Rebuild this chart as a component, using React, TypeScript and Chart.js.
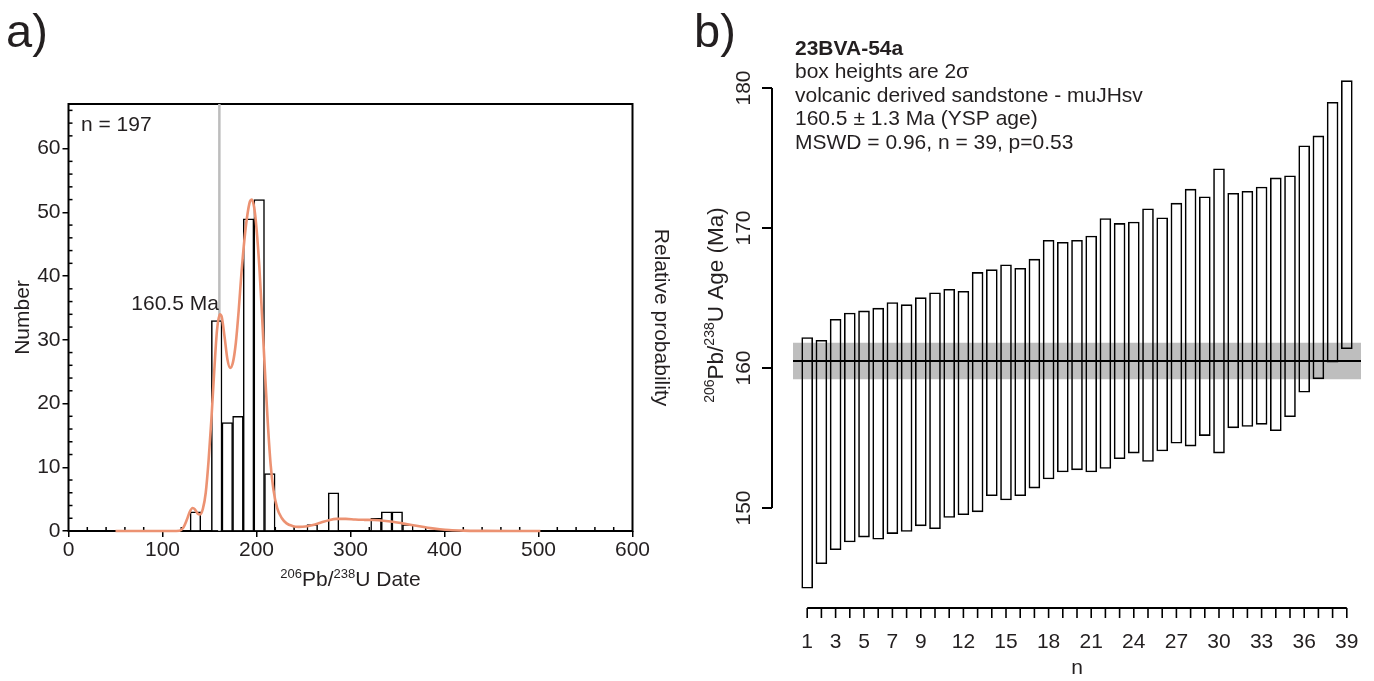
import React, { useEffect, useRef } from "react";
import { Chart, registerables } from "chart.js";

Chart.register(...registerables);

const FONT = "'Liberation Sans', Arial, Helvetica, sans-serif";
const TEXT = "#231f20";

// ---------- Panel a: histogram + probability density ----------
const histBinStart = 129.4;
const histBinWidth = 11.3;
const histCounts = [3, 0, 33, 17, 18, 49, 52, 9, 0, 0, 0, 1, 0, 6, 0, 0, 0, 2, 3, 3, 1];
const kdeAges = [
  50, 110, 118, 122, 126, 129, 132, 134.5, 137.5, 140, 143, 146, 149, 152, 155, 158, 161, 163, 166, 169,
  172, 175, 178, 181, 184, 187, 190, 193, 195, 197.5, 200, 203, 206, 209, 212, 215, 218, 222, 227, 232,
  238, 245, 252, 260, 268, 277, 285, 295, 305, 315, 325, 335, 345, 355, 365, 375, 385, 395, 405, 420,
  440, 470, 502,
];
const kdeDensity = [
  0, 0, 0.05, 0.5, 1.8, 3.0, 3.6, 3.4, 2.7, 2.6, 3.5, 6, 11, 17.5, 25, 31.5, 34.0, 33.6, 30.5, 27,
  25.6, 26.5, 29.5, 34.5, 40.5, 45.5, 49.3, 51.7, 52, 50.8, 47.5, 41.5, 33.5, 25, 17, 10.5, 6.5, 3.6, 2.0, 1.2,
  0.8, 0.65, 0.7, 0.95, 1.3, 1.7, 1.9, 1.9, 1.8, 1.75, 1.72, 1.62, 1.45, 1.2, 0.95, 0.7, 0.45, 0.28, 0.15, 0.06,
  0.02, 0, 0,
];
const dateMinorTicks = [20, 40, 60, 80, 120, 140, 160, 180, 220, 240, 260, 280, 320, 340, 360, 380, 420, 440, 460, 480, 520, 540, 560, 580];
const countMinorTicks = [2, 4, 6, 8, 12, 14, 16, 18, 22, 24, 26, 28, 32, 34, 36, 38, 42, 44, 46, 48, 52, 54, 56, 58, 62, 64, 66];
const countMax = 67;
const nGrains = 197;

// ---------- Panel b: weighted mean boxes ----------
const ysp = 160.5;
const yspErr = 1.3;
const boxLow = [
  144.25, 146.0, 147.0, 147.55, 147.9, 147.75, 148.15, 148.3, 148.7, 148.5,
  149.3, 149.5, 149.7, 150.85, 150.55, 150.85, 151.4, 152.05, 152.55, 152.7,
  152.55, 152.8, 153.5, 153.9, 153.3, 154.05, 154.6, 154.4, 155.15, 153.9,
  155.7, 155.8, 155.95, 155.5, 156.5, 158.25, 159.2, 160.4, 161.35,
];
const boxHigh = [
  162.2, 162.0, 163.5, 163.95, 164.1, 164.3, 164.7, 164.55, 165.05, 165.4,
  165.65, 165.5, 166.85, 167.05, 167.4, 167.15, 167.8, 169.15, 169.0, 169.15,
  169.45, 170.7, 170.35, 170.45, 171.4, 170.75, 171.8, 172.8, 172.25, 174.25,
  172.5, 172.65, 172.95, 173.6, 173.75, 175.9, 176.6, 179.0, 180.55,
];
const ageTicks = [150, 160, 170, 180];
const nLabels = [1, 3, 5, 7, 9, 12, 15, 18, 21, 24, 27, 30, 33, 36, 39];
const infoLines = [
  "box heights are 2σ",
  "volcanic derived sandstone - muJHsv",
  "160.5 ± 1.3 Ma (YSP age)",
  "MSWD = 0.96, n = 39, p=0.53",
];

type Part = { t: string; sup?: boolean };

function drawRich(ctx: CanvasRenderingContext2D, parts: Part[], x: number, y: number, rot: number, size: number, supSize: number) {
  ctx.save();
  ctx.translate(x, y);
  ctx.rotate(rot);
  ctx.textBaseline = "alphabetic";
  ctx.textAlign = "left";
  let total = 0;
  const widths = parts.map((p) => {
    ctx.font = `${p.sup ? supSize : size}px ${FONT}`;
    const w = ctx.measureText(p.t).width;
    total += w;
    return w;
  });
  let cx = -total / 2;
  parts.forEach((p, i) => {
    ctx.font = `${p.sup ? supSize : size}px ${FONT}`;
    ctx.fillText(p.t, cx, p.sup ? -size * 0.4 : 0);
    cx += widths[i];
  });
  ctx.restore();
}

const panelAExtras = {
  id: "panelAExtras",
  beforeDatasetsDraw(chart: any) {
    const { ctx, chartArea: ca } = chart;
    ctx.save();
    ctx.strokeStyle = "#000";
    ctx.lineWidth = 2;
    ctx.strokeRect(ca.left, ca.top, ca.right - ca.left, ca.bottom - ca.top);
    ctx.lineWidth = 1.5;
    const xs = chart.scales.x;
    const ys = chart.scales.y;
    dateMinorTicks.forEach((v) => {
      const px = xs.getPixelForValue(v);
      ctx.beginPath();
      ctx.moveTo(px, ca.bottom);
      ctx.lineTo(px, ca.bottom - 4);
      ctx.stroke();
    });
    countMinorTicks.forEach((v) => {
      const py = ys.getPixelForValue(v);
      ctx.beginPath();
      ctx.moveTo(ca.left, py);
      ctx.lineTo(ca.left + 4, py);
      ctx.stroke();
    });
    ctx.restore();
  },
  afterDraw(chart: any) {
    const { ctx, chartArea: ca } = chart;
    const xs = chart.scales.x;
    ctx.save();
    ctx.fillStyle = TEXT;
    ctx.font = `21px ${FONT}`;
    ctx.textBaseline = "alphabetic";
    ctx.textAlign = "left";
    ctx.fillText(`n = ${nGrains}`, 81, 131);
    ctx.textAlign = "right";
    ctx.fillText(`${ysp} Ma`, xs.getPixelForValue(ysp) - 0.5, 310);
    ctx.textAlign = "left";
    ctx.font = `47px ${FONT}`;
    ctx.fillText("a)", 6, 47);
    drawRich(
      ctx,
      [{ t: "206", sup: true }, { t: "Pb/" }, { t: "238", sup: true }, { t: "U Date" }],
      (ca.left + ca.right) / 2,
      586,
      0,
      21,
      13
    );
    ctx.restore();
  },
};

const panelBExtras = {
  id: "panelBExtras",
  afterDraw(chart: any) {
    const { ctx, chartArea: ca } = chart;
    const xs = chart.scales.x;
    const ys = chart.scales.y;
    ctx.save();
    ctx.strokeStyle = "#000";
    ctx.fillStyle = TEXT;
    ctx.lineWidth = 2;
    // y axis
    const ax = ca.left - 21;
    const yTop = ys.getPixelForValue(ageTicks[ageTicks.length - 1]);
    const yBot = ys.getPixelForValue(ageTicks[0]);
    ctx.beginPath();
    ctx.moveTo(ax, yTop);
    ctx.lineTo(ax, yBot);
    ctx.stroke();
    ctx.font = `21px ${FONT}`;
    ageTicks.forEach((v) => {
      const py = ys.getPixelForValue(v);
      ctx.beginPath();
      ctx.moveTo(ax - 10, py);
      ctx.lineTo(ax, py);
      ctx.stroke();
      ctx.save();
      ctx.translate(ax - 22, py);
      ctx.rotate(-Math.PI / 2);
      ctx.textAlign = "center";
      ctx.textBaseline = "alphabetic";
      ctx.fillText(String(v), 0, 0);
      ctx.restore();
    });
    drawRich(
      ctx,
      [{ t: "206", sup: true }, { t: "Pb/" }, { t: "238", sup: true }, { t: "U Age (Ma)" }],
      ax - 49,
      305,
      -Math.PI / 2,
      22.5,
      14
    );
    // x axis
    const ay = 608;
    const x1 = xs.getPixelForValue(1);
    const x2 = xs.getPixelForValue(boxLow.length);
    ctx.beginPath();
    ctx.moveTo(x1, ay);
    ctx.lineTo(x2, ay);
    ctx.stroke();
    ctx.lineWidth = 1.6;
    for (let i = 1; i <= boxLow.length; i++) {
      const px = xs.getPixelForValue(i);
      ctx.beginPath();
      ctx.moveTo(px, ay);
      ctx.lineTo(px, ay + 10);
      ctx.stroke();
    }
    ctx.textAlign = "center";
    ctx.textBaseline = "alphabetic";
    nLabels.forEach((n) => {
      ctx.fillText(String(n), xs.getPixelForValue(n), 647.5);
    });
    ctx.fillText("n", (x1 + x2) / 2, 674);
    // info text
    ctx.textAlign = "left";
    ctx.font = `bold 21px ${FONT}`;
    ctx.fillText("23BVA-54a", 105, 54.5);
    ctx.font = `21px ${FONT}`;
    infoLines.forEach((s, i) => ctx.fillText(s, 105, 78 + i * 23.5));
    ctx.font = `47px ${FONT}`;
    ctx.fillText("b)", 4, 47);
    ctx.restore();
  },
};

export default function App() {
  const refA = useRef<HTMLCanvasElement>(null);
  const refB = useRef<HTMLCanvasElement>(null);

  useEffect(() => {
    const tickFont = { family: FONT, size: 21 };
    const chartA = new Chart(refA.current as HTMLCanvasElement, {
      type: "bar",
      data: {
        datasets: [
          {
            type: "line",
            label: "density",
            data: kdeAges.map((a, i) => ({ x: a, y: kdeDensity[i] })),
            borderColor: "#ec9272",
            borderWidth: 2.6,
            pointRadius: 0,
            cubicInterpolationMode: "monotone",
            fill: false,
            order: 0,
            clip: false,
          } as any,
          {
            type: "bar",
            label: "count",
            data: histCounts.map((c, i) => ({ x: histBinStart + (i + 0.5) * histBinWidth, y: c })),
            backgroundColor: "#ffffff",
            borderColor: "#000000",
            borderWidth: 1.5,
            barPercentage: 1,
            categoryPercentage: 1,
            order: 1,
          } as any,
          {
            type: "line",
            label: "ysp",
            data: [
              { x: ysp, y: 0 },
              { x: ysp, y: countMax },
            ],
            borderColor: "#bdbdbd",
            borderWidth: 2.5,
            pointRadius: 0,
            order: 2,
          } as any,
        ],
      },
      options: {
        responsive: false,
        maintainAspectRatio: false,
        animation: false,
        layout: { padding: { left: 0, right: 0, top: 104, bottom: 0 } },
        plugins: { legend: { display: false }, tooltip: { enabled: false } },
        scales: {
          x: {
            type: "linear",
            min: 0,
            max: 600,
            offset: false,
            position: "bottom",
            ticks: { stepSize: 100, font: tickFont, color: TEXT, padding: 1, maxRotation: 0, autoSkip: false },
            grid: { drawOnChartArea: false, drawTicks: true, tickLength: 6, color: "#000", lineWidth: 1.5, offset: false },
            border: { display: false },
            afterFit: (s: any) => {
              s.height = 150;
            },
          },
          y: {
            type: "linear",
            min: 0,
            max: countMax,
            position: "left",
            ticks: { stepSize: 10, includeBounds: false, font: tickFont, color: TEXT, padding: 2 },
            grid: { drawOnChartArea: false, tickLength: 6, color: "#000", lineWidth: 1.5 },
            border: { display: false },
            title: { display: true, text: "Number", font: tickFont, color: TEXT, padding: { top: 10.5, bottom: 0 } },
            afterFit: (s: any) => {
              s.width = 68.5;
            },
          },
          y2: {
            type: "linear",
            min: 0,
            max: countMax,
            position: "right",
            ticks: { display: false },
            grid: { display: false },
            border: { display: false },
            title: { display: true, text: "Relative probability", font: tickFont, color: TEXT, padding: { top: 16.5, bottom: 0 } },
            afterFit: (s: any) => {
              s.width = 57.5;
            },
          },
        },
      } as any,
      plugins: [panelAExtras],
    });

    const chartB = new Chart(refB.current as HTMLCanvasElement, {
      type: "bar",
      data: {
        datasets: [
          {
            type: "line",
            label: "mean",
            data: [
              { x: 0, y: ysp },
              { x: 40, y: ysp },
            ],
            borderColor: "#000",
            borderWidth: 2,
            pointRadius: 0,
            order: 0,
          } as any,
          {
            type: "bar",
            label: "ages",
            data: boxLow.map((l, i) => ({ x: i + 1, y: [l, boxHigh[i]] })),
            backgroundColor: "rgba(255,255,255,0)",
            borderColor: "#000",
            borderWidth: 1.6,
            borderSkipped: false,
            barPercentage: 0.82,
            categoryPercentage: 1,
            order: 1,
          } as any,
          {
            type: "line",
            label: "band",
            data: [
              { x: 0, y: ysp + yspErr },
              { x: 40, y: ysp + yspErr },
            ],
            borderColor: "rgba(0,0,0,0)",
            borderWidth: 0,
            pointRadius: 0,
            backgroundColor: "#bebebe",
            fill: "+1",
            order: 2,
          } as any,
          {
            type: "line",
            label: "bandLow",
            data: [
              { x: 0, y: ysp - yspErr },
              { x: 40, y: ysp - yspErr },
            ],
            borderColor: "rgba(0,0,0,0)",
            borderWidth: 0,
            pointRadius: 0,
            fill: false,
            order: 3,
          } as any,
        ],
      },
      options: {
        responsive: false,
        maintainAspectRatio: false,
        animation: false,
        layout: { padding: { left: 103, right: 13, top: 74, bottom: 75 } },
        plugins: { legend: { display: false }, tooltip: { enabled: false } },
        scales: {
          x: { type: "linear", min: 0, max: 40, offset: false, display: false, grid: { offset: false } },
          y: { type: "linear", min: 143, max: 181, display: false },
        },
      } as any,
      plugins: [panelBExtras],
    });

    return () => {
      chartA.destroy();
      chartB.destroy();
    };
  }, []);

  return (
    <div style={{ position: "absolute", left: 0, top: 0, width: 1374, height: 681, background: "#fff", overflow: "hidden" }}>
      <canvas ref={refA} width={690} height={681} style={{ position: "absolute", left: 0, top: 0, width: 690, height: 681 }} />
      <canvas ref={refB} width={684} height={681} style={{ position: "absolute", left: 690, top: 0, width: 684, height: 681 }} />
    </div>
  );
}
